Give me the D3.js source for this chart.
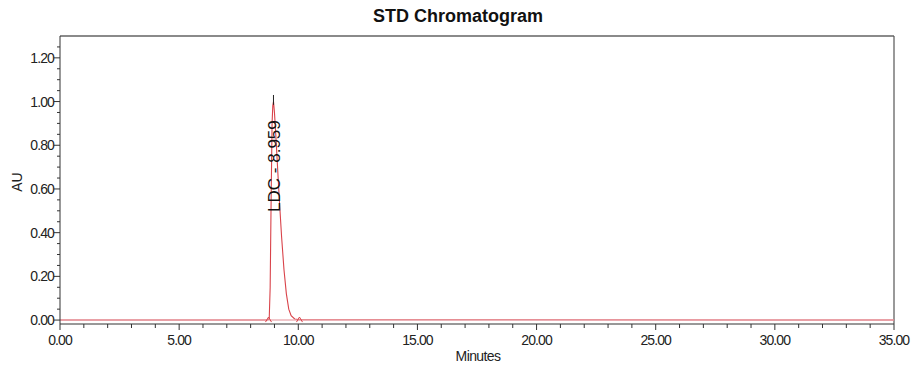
<!DOCTYPE html>
<html><head><meta charset="utf-8">
<script src="https://cdn.jsdelivr.net/npm/d3@7"></script>
<style>body{margin:0;background:#fff;} svg{display:block;font-family:"Liberation Sans",Arial,sans-serif;}</style>
</head><body>
<script>
const title = "STD Chromatogram";
const xLabel = "Minutes";
const yLabel = "AU";
const peakLabel = "LDC - 8.959";
const peakTime = 8.959;
const times = [0, 8.70, 8.78, 8.82, 8.86, 8.90, 8.93, 8.96, 9.00, 9.05, 9.10, 9.20, 9.30, 9.40, 9.50, 9.60, 9.70, 9.85, 10.0, 35];
const absorb = [0, 0, 0.005, 0.15, 0.55, 0.90, 0.98, 1.00, 0.95, 0.86, 0.76, 0.56, 0.38, 0.23, 0.12, 0.05, 0.02, 0.005, 0.002, 0];
const xTicks = [0, 5, 10, 15, 20, 25, 30, 35];
const yTicks = [0, 0.2, 0.4, 0.6, 0.8, 1.0, 1.2];
const peakBounds = [8.75, 10.05];

const W = 914, H = 368;
const svg = d3.select("body").append("svg").attr("width", W).attr("height", H);
const x = d3.scaleLinear().domain([0, 35]).range([60, 894]);
const y = d3.scaleLinear().domain([-0.018, 1.3]).range([324, 36]);

// frame
svg.append("line").attr("x1", 60).attr("x2", 894).attr("y1", 36).attr("y2", 36).attr("stroke", "#8a8a8a").attr("stroke-width", 2);
svg.append("line").attr("x1", 894).attr("x2", 894).attr("y1", 36).attr("y2", 324).attr("stroke", "#555").attr("stroke-width", 1.2);

// baseline + trace
const data = times.map((t, i) => [t, absorb[i]]);
svg.append("path").datum(data)
  .attr("d", d3.line().x(d => x(d[0])).y(d => y(d[1])))
  .attr("fill", "none").attr("stroke", "#d9434a").attr("stroke-width", 1.1);
svg.append("line").attr("x1", x(0)).attr("x2", x(35)).attr("y1", y(0)).attr("y2", y(0))
  .attr("stroke", "#e8a0a8").attr("stroke-width", 1.5).attr("opacity", 0.8);

// integration marks
peakBounds.forEach(t => {
  svg.append("path").attr("d", `M${x(t)-3},${y(0)+2}L${x(t)},${y(0)-3}L${x(t)+3},${y(0)+2}`)
    .attr("fill", "none").attr("stroke", "#d9434a").attr("stroke-width", 1);
});

// peak marker
svg.append("line").attr("x1", x(peakTime)).attr("x2", x(peakTime)).attr("y1", y(1.03)).attr("y2", y(0.985))
  .attr("stroke", "#222").attr("stroke-width", 1);
svg.append("text").attr("transform", `translate(${x(peakTime)+7},${y(0.495)}) rotate(-90)`)
  .attr("font-size", 17).attr("fill", "#111").text(peakLabel);

// axes
const xAxis = svg.append("g").attr("transform", "translate(0,324)");
xAxis.append("line").attr("x1", 60).attr("x2", 894).attr("stroke", "#333");
const xMinor = d3.range(0, 36, 1);
xAxis.selectAll(".xm").data(xMinor).join("line")
  .attr("x1", d => x(d)).attr("x2", d => x(d)).attr("y1", 0).attr("y2", d => d % 5 === 0 ? 6 : 4)
  .attr("stroke", "#333");
xAxis.selectAll(".xl").data(xTicks).join("text")
  .attr("x", d => x(d)).attr("y", 21).attr("text-anchor", "middle")
  .attr("font-size", 14).attr("letter-spacing", -0.9).attr("fill", "#222").text(d => d3.format(".2f")(d));

const yAxis = svg.append("g");
yAxis.append("line").attr("x1", 60).attr("x2", 60).attr("y1", 36).attr("y2", 324).attr("stroke", "#333");
const yMinor = d3.range(0, 26).map(i => i * 0.05);
yAxis.selectAll(".ym").data(yMinor).join("line")
  .attr("x1", d => Math.abs(d * 5 - Math.round(d * 5)) < 1e-6 ? 54 : 57).attr("x2", 60)
  .attr("y1", d => y(d)).attr("y2", d => y(d)).attr("stroke", "#333");
yAxis.selectAll(".yl").data(yTicks).join("text")
  .attr("x", 54).attr("y", d => y(d) + 5).attr("text-anchor", "end")
  .attr("font-size", 14).attr("letter-spacing", -0.9).attr("fill", "#222").text(d => d3.format(".2f")(d));

// labels
svg.append("text").attr("x", 458).attr("y", 22).attr("text-anchor", "middle")
  .attr("font-size", 18).attr("font-weight", "bold").attr("fill", "#111").text(title);
svg.append("text").attr("x", 478).attr("y", 361).attr("text-anchor", "middle")
  .attr("font-size", 14).attr("letter-spacing", -0.6).attr("fill", "#222").text(xLabel);
svg.append("text").attr("transform", "translate(22,182) rotate(-90)").attr("text-anchor", "middle")
  .attr("font-size", 14).attr("fill", "#222").text(yLabel);
</script>
</body></html>
